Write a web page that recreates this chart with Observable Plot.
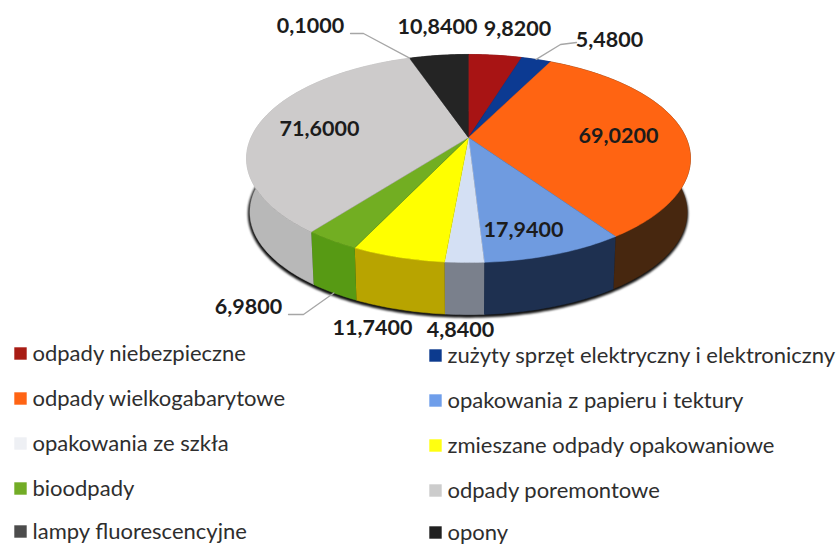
<!DOCTYPE html>
<html>
<head>
<meta charset="utf-8">
<script src="https://cdn.jsdelivr.net/npm/d3@7"></script>
<script src="https://cdn.jsdelivr.net/npm/@observablehq/plot@0.6"></script>
<style>html,body{margin:0;padding:0;background:#fff}svg{display:block}</style>
</head>
<body>
<div id="chart"></div>
<script>
const categories = ["odpady niebezpieczne","zużyty sprzęt elektryczny i elektroniczny","odpady wielkogabarytowe","opakowania z papieru i tektury","opakowania ze szkła","zmieszane odpady opakowaniowe","bioodpady","odpady poremontowe","lampy fluorescencyjne","opony"];
const values = [9.82,5.48,69.02,17.94,4.84,11.74,6.98,71.6,0.1,10.84];
const valueLabels = ["9,8200","5,4800","69,0200","17,9400","4,8400","11,7400","6,9800","71,6000","0,1000","10,8400"];
const topColors = ["#a81414","#0c3a92","#ff6412","#6f9be0","#d4e0f4","#ffff00","#72ae22","#cdcbcb","#8a8a8a","#242424"];
const sideColors = ["#6e0e0e","#08265e","#47270f","#1e3050","#7a808c","#b8a400","#579a14","#b8b8b8","#555555","#161616"];
const legendColors = ["#a81c14","#0c3a8e","#ff6414","#6f9eea","#eef0f4","#ffff10","#72ac26","#cccccc","#4c4c4c","#202020"];
const labelX = [517,609,618,523,460,372,248,319,310,437];
const labelY = [29,40,136,230,330,328,307,129,26,27];
const legendRowY = [353,398,443,488,531];
const rightRowY = [355,400,445,490,532];

// perspective model of the pie's disc
const cx = 468, cy = 137, a = 217.4, b = 99.8, k = 0.202, dy = 54, shrink = 0.985;
const rim = (t, bottom = false) => {
  const u = Math.sin(t), v = -Math.cos(t), w = 1 - k * v, f = bottom ? shrink : 1;
  return {x: cx + a * f * u / w, y: cy + (bottom ? dy : 0) + b * f * v / w};
};
const total = d3.sum(values);
let acc = 0;
const slices = values.map((v, i) => {
  const t0 = acc / total * 2 * Math.PI; acc += v;
  return {i, t0, t1: acc / total * 2 * Math.PI};
});
const arc = (t0, t1) => {
  const n = Math.max(2, Math.ceil((t1 - t0) / 0.02));
  return d3.range(n + 1).map(j => t0 + (t1 - t0) * j / n);
};
const topPoly = [], sidePoly = [];
for (const s of slices) {
  topPoly.push({k: s.i, x: cx, y: cy, c: topColors[s.i]});
  for (const t of arc(s.t0, s.t1)) topPoly.push({k: s.i, ...rim(t), c: topColors[s.i]});
  const ts = arc(s.t0, s.t1);
  for (const t of ts) sidePoly.push({k: s.i, ...rim(t), c: sideColors[s.i]});
  for (const t of ts.slice().reverse()) sidePoly.push({k: s.i, ...rim(t, true), c: sideColors[s.i]});
}
const shadow = arc(0, 2 * Math.PI).map(t => { const p = rim(t, true); return {x: p.x - 0.5, y: p.y + 1.5}; });

const legend = categories.map((name, i) => {
  const row = Math.floor(i / 2), right = i % 2 === 1;
  return {name, c: legendColors[i], mx: right ? 435 : 20, tx: right ? 447 : 32, y: right ? rightRowY[row] : legendRowY[row]};
});
const labels = valueLabels.map((t, i) => ({t, x: labelX[i], y: labelY[i]}));

const leaders = [];
const leader = (id, pts, sliceIndex) => {
  const s = slices[sliceIndex];
  for (const [x, y] of pts) leaders.push({id, x, y});
  leaders.push({id, ...rim((s.t0 + s.t1) / 2, false)});
};
leader("lampy", [[350,33],[363,33]], 8);
leader("sprzet", [[576,42],[560,44]], 1);
const bio = slices[6];
leaders.push({id:"bio", x:288, y:314},{id:"bio", x:303, y:314},{id:"bio", ...rim((bio.t0+bio.t1)/2, true)});

const font = "Lato, 'Noto Sans', sans-serif";
const chart = Plot.plot({
  width: 840, height: 544, margin: 0,
  x: {domain: [0, 840], axis: null},
  y: {domain: [544, 0], axis: null},
  marks: [
    Plot.line(shadow, {x: "x", y: "y", fill: "#111", stroke: "#111", strokeWidth: 3, imageFilter: "blur(1.2px)"}),
    Plot.line(sidePoly, {x: "x", y: "y", z: "k", fill: {value: "c", scale: null}, stroke: {value: "c", scale: null}, strokeWidth: 0.5}),
    Plot.line(topPoly, {x: "x", y: "y", z: "k", fill: {value: "c", scale: null}, stroke: {value: "c", scale: null}, strokeWidth: 0.5}),
    Plot.line(leaders, {x: "x", y: "y", z: "id", stroke: "#a6a6a6", strokeWidth: 1.3}),
    Plot.text(labels, {x: "x", y: "y", text: "t", fontFamily: font, fontWeight: 700, fontSize: 21.5, fill: "#1c1c1c"}),
    Plot.dot(legend, {x: "mx", y: "y", symbol: "square", r: 7, fill: {value: "c", scale: null}}),
    Plot.text(legend, {x: "tx", y: "y", text: "name", textAnchor: "start", fontFamily: font, fontSize: 22, fill: "#2e2e2e"})
  ]
});
document.getElementById("chart").append(chart);
</script>
</body>
</html>
